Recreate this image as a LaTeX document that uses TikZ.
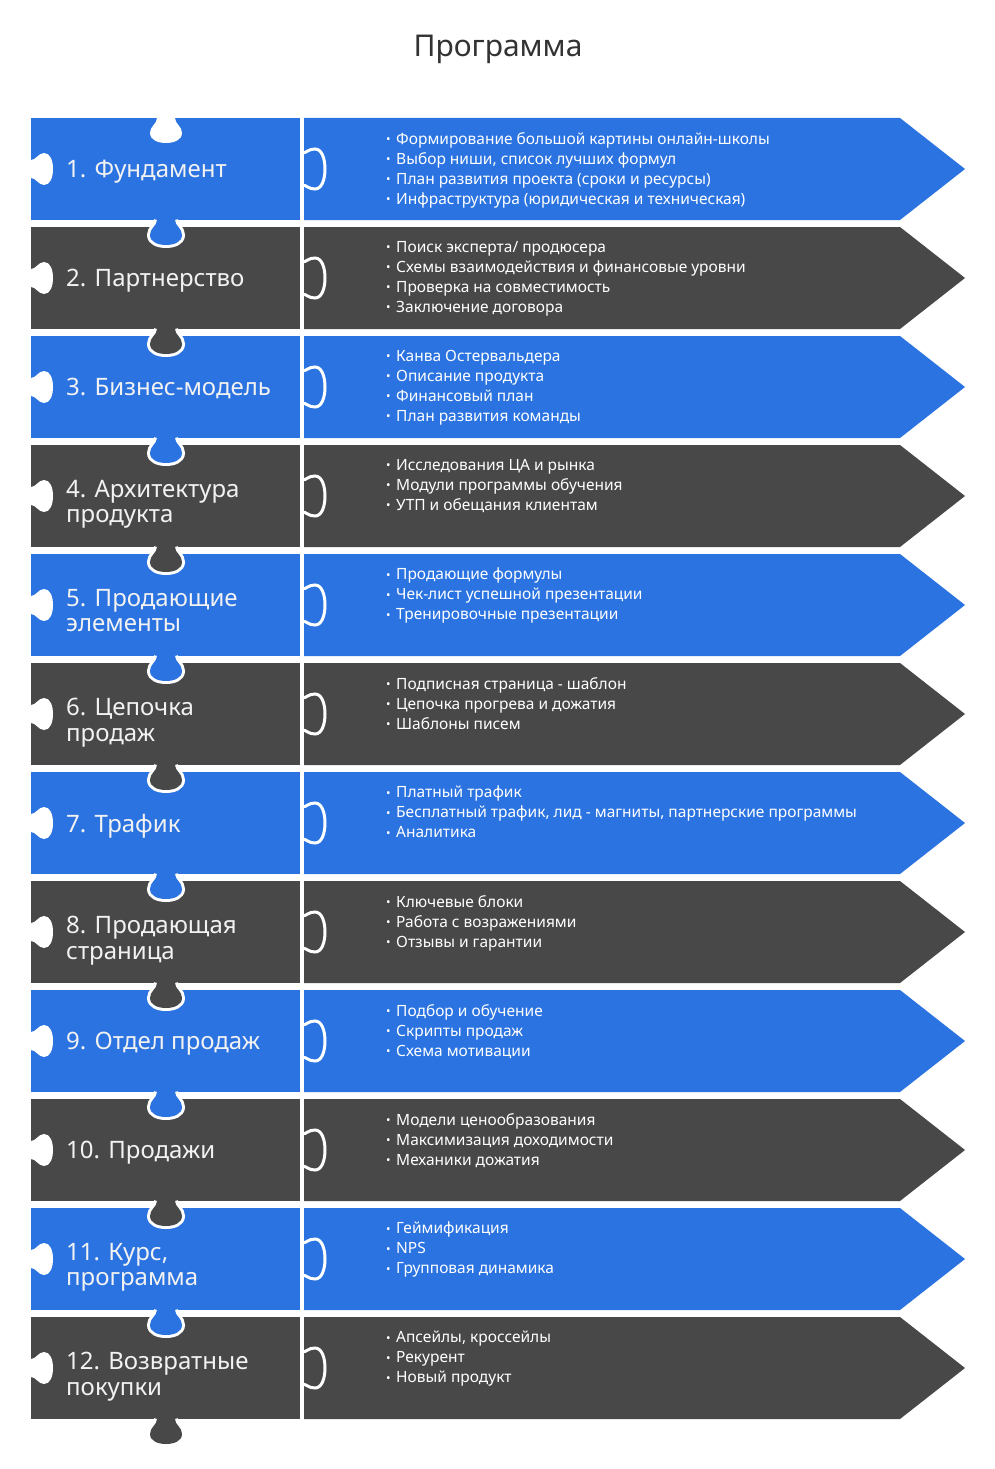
\documentclass[tikz,border=0pt]{standalone}
\usepackage{fontspec}
\setmainfont{Noto Sans}
\usetikzlibrary{positioning}
\definecolor{pblue}{rgb}{0.165, 0.451, 0.882}
\definecolor{pgray}{rgb}{0.282, 0.282, 0.282}
\definecolor{ptitle}{rgb}{0.2, 0.2, 0.2}
\definecolor{ptext}{rgb}{0.95, 0.95, 0.95}
\newcommand{\bul}{\makebox[10pt][l]{\raisebox{0.5pt}{\fontsize{12}{12}\selectfont •}}}
\tikzset{heading/.style = {font=\fontsize{30}{36}\selectfont, text=ptitle},
         stage/.style = {anchor=north west, align=left, inner sep=0pt, text=ptext,
                         font=\fontsize{24}{25.5}\selectfont},
         bullets/.style = {anchor=north west, align=left, inner sep=0pt, text=white,
                           font=\fontsize{15.5}{20}\selectfont},
         pics/knobfill/.style = {code={
           \fill[#1] (-9,-2) -- (-9,0) .. controls (-9,6) and (-16,8) .. (-16,15)
             .. controls (-16,22) and (-8,25) .. (0,25) .. controls (8,25) and (16,22) .. (16,15)
             .. controls (16,8) and (9,6) .. (9,0) -- (9,-2) -- cycle;}},
         pics/knobedge/.style = {code={
           \draw[white, line width=6pt] (-9,0) .. controls (-9,6) and (-16,8) .. (-16,15)
             .. controls (-16,22) and (-8,25) .. (0,25) .. controls (8,25) and (16,22) .. (16,15)
             .. controls (16,8) and (9,6) .. (9,0);}},
         pics/sideknob/.style = {code={
           \draw[white, line width=3pt] (-16,0) .. controls (-16,5) and (-20,6) .. (-20,13)
             .. controls (-20,20) and (-10,23) .. (0,23) .. controls (10,23) and (20,20) .. (20,13)
             .. controls (20,6) and (16,5) .. (16,0);}}}

\begin{document}
\begin{tikzpicture}[x=1pt, y=-1pt]
  \useasboundingbox (0,0) rectangle (995,1469);
  \node[heading] (title) at (498,49) {Программа};

  % puzzle rows
  \foreach \i/\col in {1/pblue,2/pgray,3/pblue,4/pgray,5/pblue,6/pgray,
                       7/pblue,8/pgray,9/pblue,10/pgray,11/pblue,12/pgray} {
    \pgfmathsetmacro\rowtop{118+(\i-1)*109}
    \fill[\col] (31,\rowtop) rectangle (300,\rowtop+102);
    \fill[\col] (304,\rowtop) -- (900,\rowtop) -- (965,\rowtop+51)
                -- (900,\rowtop+102) -- (304,\rowtop+102) -- cycle;
  }
  \pic at (166,118) {knobfill=white};
  \foreach \i/\col in {1/pblue,2/pgray,3/pblue,4/pgray,5/pblue,6/pgray,
                       7/pblue,8/pgray,9/pblue,10/pgray,11/pblue,12/pgray} {
    \pgfmathsetmacro\rowtop{118+(\i-1)*109}
    \pic[rotate=90, yscale=0.88] at (31,\rowtop+51) {knobfill=white};
    \pic[rotate=90] at (302,\rowtop+51) {sideknob};
    \pic at (166,\rowtop+102) {knobedge};
    \pic at (166,\rowtop+102) {knobfill=\col};
  }

  % stage names
  \node[stage] (stage1) at (66,160) {1. Фундамент};
  \node[stage] (stage2) at (66,269) {2. Партнерство};
  \node[stage] (stage3) at (66,378) {3. Бизнес-модель};
  \node[stage] (stage4) at (66,480) {4. Архитектура\\продукта};
  \node[stage] (stage5) at (66,589) {5. Продающие\\элементы};
  \node[stage] (stage6) at (66,698) {6. Цепочка\\продаж};
  \node[stage] (stage7) at (66,814) {7. Трафик};
  \node[stage] (stage8) at (66,916) {8. Продающая\\страница};
  \node[stage] (stage9) at (66,1032) {9. Отдел продаж};
  \node[stage] (stage10) at (66,1141) {10. Продажи};
  \node[stage] (stage11) at (66,1243) {11. Курс,\\программа};
  \node[stage] (stage12) at (66,1352) {12. Возвратные\\покупки};

  % contents
  \node[bullets] (list1) at (386,132) {\bul Формирование большой картины онлайн-школы\\
    \bul Выбор ниши, список лучших формул\\\bul План развития проекта (сроки и ресурсы)\\
    \bul Инфраструктура (юридическая и техническая)};
  \node[bullets] (list2) at (386,241) {\bul Поиск эксперта/ продюсера\\
    \bul Схемы взаимодействия и финансовые уровни\\\bul Проверка на совместимость\\
    \bul Заключение договора};
  \node[bullets] (list3) at (386,350) {\bul Канва Остервальдера\\\bul Описание продукта\\
    \bul Финансовый план\\\bul План развития команды};
  \node[bullets] (list4) at (386,459) {\bul Исследования ЦА и рынка\\
    \bul Модули программы обучения\\\bul УТП и обещания клиентам};
  \node[bullets] (list5) at (386,568) {\bul Продающие формулы\\
    \bul Чек-лист успешной презентации\\\bul Тренировочные презентации};
  \node[bullets] (list6) at (386,677) {\bul Подписная страница - шаблон\\
    \bul Цепочка прогрева и дожатия\\\bul Шаблоны писем};
  \node[bullets] (list7) at (386,786) {\bul Платный трафик\\
    \bul Бесплатный трафик, лид - магниты, партнерские программы\\\bul Аналитика};
  \node[bullets] (list8) at (386,895) {\bul Ключевые блоки\\
    \bul Работа с возражениями\\\bul Отзывы и гарантии};
  \node[bullets] (list9) at (386,1004) {\bul Подбор и обучение\\
    \bul Скрипты продаж\\\bul Схема мотивации};
  \node[bullets] (list10) at (386,1113) {\bul Модели ценообразования\\
    \bul Максимизация доходимости\\\bul Механики дожатия};
  \node[bullets] (list11) at (386,1222) {\bul Геймификация\\\bul NPS\\
    \bul Групповая динамика};
  \node[bullets] (list12) at (386,1331) {\bul Апсейлы, кроссейлы\\
    \bul Рекурент\\\bul Новый продукт};
\end{tikzpicture}
\end{document}
